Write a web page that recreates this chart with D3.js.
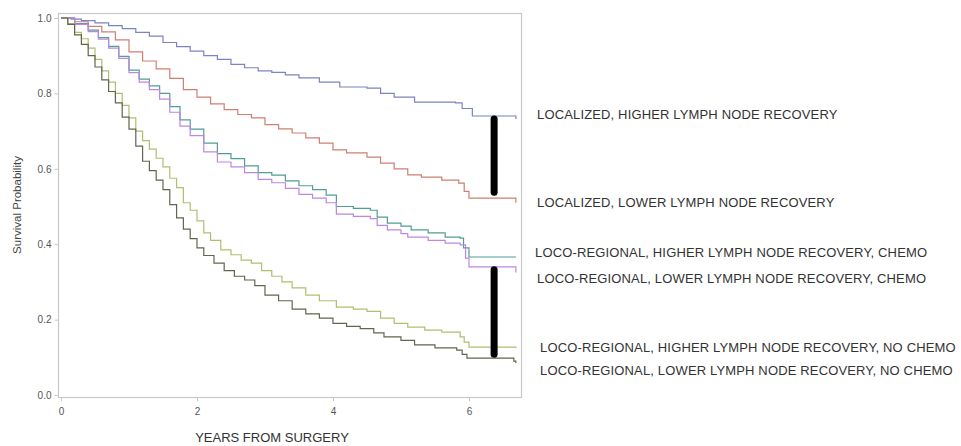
<!DOCTYPE html>
<html>
<head>
<meta charset="utf-8">
<script src="https://d3js.org/d3.v7.min.js"></script>
<style>
  body { margin: 0; background: #fff; }
  text { font-family: "Liberation Sans", Arial, sans-serif; }
</style>
</head>
<body>
<div id="chart"></div>
<script>
// Group names, as printed to the right of the curves
const groups = [
  "LOCALIZED, HIGHER LYMPH NODE RECOVERY",
  "LOCALIZED, LOWER LYMPH NODE RECOVERY",
  "LOCO-REGIONAL, HIGHER LYMPH NODE RECOVERY, CHEMO",
  "LOCO-REGIONAL, LOWER LYMPH NODE RECOVERY, CHEMO",
  "LOCO-REGIONAL, HIGHER LYMPH NODE RECOVERY, NO CHEMO",
  "LOCO-REGIONAL, LOWER LYMPH NODE RECOVERY, NO CHEMO"
];
const colors = ["#7a84c4", "#cf7f72", "#4f9e94", "#bd86e4", "#b3bd6e", "#66644f"];

// Kaplan-Meier curves: years and survival probability
const locHighT = [0, 0.15, 0.3, 0.5, 0.7, 0.9, 1.1, 1.3, 1.5, 1.7, 1.9, 2.1, 2.3, 2.5, 2.7, 2.9, 3.1, 3.3, 3.5, 3.8, 4.1, 4.5, 4.7, 4.9, 5.2, 5.8, 5.9, 6.05, 6.66, 6.69];
const locHighS = [1.0, 0.997, 0.993, 0.987, 0.98, 0.972, 0.962, 0.952, 0.935, 0.924, 0.912, 0.9, 0.89, 0.877, 0.868, 0.86, 0.856, 0.849, 0.841, 0.83, 0.817, 0.814, 0.8, 0.79, 0.777, 0.775, 0.76, 0.74, 0.74, 0.732];

const locLowT = [0, 0.2, 0.4, 0.6, 0.8, 1.0, 1.2, 1.4, 1.6, 1.8, 2.0, 2.2, 2.4, 2.6, 2.8, 3.0, 3.2, 3.4, 3.6, 3.8, 4.0, 4.2, 4.5, 4.7, 4.9, 5.1, 5.3, 5.6, 5.85, 5.93, 6.0, 6.66, 6.69];
const locLowS = [1.0, 0.99, 0.978, 0.963, 0.942, 0.91, 0.886, 0.865, 0.84, 0.81, 0.79, 0.772, 0.757, 0.744, 0.735, 0.717, 0.706, 0.695, 0.682, 0.668, 0.65, 0.642, 0.631, 0.615, 0.6, 0.584, 0.578, 0.57, 0.562, 0.54, 0.522, 0.522, 0.51];

const regHighChemoT = [0, 0.2, 0.4, 0.55, 0.7, 0.85, 1.0, 1.15, 1.3, 1.45, 1.6, 1.75, 1.9, 2.1, 2.3, 2.5, 2.7, 2.9, 3.1, 3.3, 3.5, 3.7, 3.9, 4.05, 4.3, 4.55, 4.65, 4.8, 5.0, 5.15, 5.4, 5.65, 5.87, 5.92, 6.0, 6.69];
const regHighChemoS = [1.0, 0.985, 0.968, 0.948, 0.925, 0.898, 0.862, 0.838, 0.82, 0.8, 0.765, 0.73, 0.705, 0.668, 0.64, 0.627, 0.608, 0.59, 0.583, 0.568, 0.555, 0.545, 0.53, 0.5, 0.495, 0.49, 0.472, 0.456, 0.448, 0.438, 0.43, 0.419, 0.416, 0.39, 0.366, 0.366];

const regLowChemoT = [0, 0.2, 0.4, 0.55, 0.7, 0.85, 1.0, 1.15, 1.3, 1.45, 1.6, 1.75, 1.9, 2.1, 2.3, 2.5, 2.7, 2.9, 3.1, 3.3, 3.5, 3.7, 3.9, 4.05, 4.3, 4.55, 4.65, 4.8, 5.0, 5.1, 5.4, 5.65, 5.87, 5.95, 6.0, 6.66, 6.69];
const regLowChemoS = [1.0, 0.983, 0.964, 0.944, 0.92, 0.893, 0.855, 0.83, 0.81, 0.785, 0.75, 0.713, 0.688, 0.645, 0.618, 0.605, 0.59, 0.572, 0.563, 0.548, 0.532, 0.522, 0.51, 0.48, 0.474, 0.468, 0.45, 0.438, 0.428, 0.419, 0.41, 0.403, 0.398, 0.363, 0.34, 0.34, 0.325];

const regHighNoChemoT = [0, 0.1, 0.2, 0.3, 0.4, 0.5, 0.6, 0.7, 0.8, 0.9, 1.0, 1.1, 1.2, 1.3, 1.4, 1.5, 1.6, 1.7, 1.8, 1.9, 2.0, 2.1, 2.2, 2.35, 2.5, 2.65, 2.8, 2.95, 3.1, 3.25, 3.4, 3.6, 3.8, 4.05, 4.3, 4.5, 4.7, 4.9, 5.1, 5.35, 5.6, 5.87, 5.93, 6.0, 6.69];
const regHighNoChemoS = [1.0, 0.985, 0.962, 0.945, 0.92, 0.89, 0.86, 0.83, 0.8, 0.768, 0.735, 0.7, 0.675, 0.652, 0.628, 0.605, 0.575, 0.55, 0.51, 0.49, 0.462, 0.43, 0.41, 0.385, 0.372, 0.358, 0.35, 0.33, 0.315, 0.3, 0.284, 0.265, 0.25, 0.233, 0.228, 0.222, 0.204, 0.19, 0.18, 0.172, 0.167, 0.154, 0.14, 0.127, 0.125];

const regLowNoChemoT = [0, 0.1, 0.2, 0.3, 0.4, 0.5, 0.6, 0.7, 0.8, 0.9, 1.0, 1.1, 1.2, 1.3, 1.4, 1.5, 1.6, 1.7, 1.8, 1.9, 2.0, 2.1, 2.25, 2.4, 2.55, 2.7, 2.85, 3.0, 3.2, 3.4, 3.6, 3.8, 4.0, 4.2, 4.4, 4.6, 4.75, 5.0, 5.2, 5.5, 5.82, 5.9, 5.97, 6.66, 6.69];
const regLowNoChemoS = [1.0, 0.983, 0.955, 0.93, 0.9, 0.87, 0.836, 0.805, 0.775, 0.737, 0.705, 0.66, 0.62, 0.595, 0.57, 0.545, 0.505, 0.47, 0.44, 0.415, 0.39, 0.37, 0.35, 0.33, 0.315, 0.305, 0.29, 0.265, 0.25, 0.228, 0.215, 0.204, 0.19, 0.182, 0.176, 0.165, 0.154, 0.145, 0.133, 0.125, 0.119, 0.108, 0.098, 0.09, 0.085];

const curveTimes = [locHighT, locLowT, regHighChemoT, regLowChemoT, regHighNoChemoT, regLowNoChemoT];
const curveSurv = [locHighS, locLowS, regHighChemoS, regLowChemoS, regHighNoChemoS, regLowNoChemoS];

// where each label sits, in survival units
const labelAt = [0.743, 0.512, 0.379, 0.31, 0.127, 0.064];
const labelDx = [0, 0, -2, 0, 3, 3];

// the two black bars drawn over the curves
const barYear = 6.37;
const bars = [[0.74, 0.53], [0.34, 0.10]];

const xTicks = [0, 2, 4, 6];
const yTicks = [0, 0.2, 0.4, 0.6, 0.8, 1.0];

const width = 961, height = 446;

const svg = d3.select("#chart").append("svg")
  .attr("width", width)
  .attr("height", height);

const x = d3.scaleLinear().domain([0, 6.78]).range([61, 522]);
const y = d3.scaleLinear().domain([0, 1]).range([395, 18]);

// frame
svg.append("rect")
  .attr("x", 58.5).attr("y", 13.5)
  .attr("width", 463).attr("height", 384)
  .attr("fill", "none")
  .attr("stroke", "#c8c8c8")
  .attr("stroke-width", 1.2);

// axes
const xAxis = svg.append("g")
  .attr("transform", "translate(0,397.5)")
  .call(d3.axisBottom(x).tickValues(xTicks).tickFormat(d3.format("d")).tickSize(4).tickSizeOuter(0));
const yAxis = svg.append("g")
  .attr("transform", "translate(58.5,0)")
  .call(d3.axisLeft(y).tickValues(yTicks).tickFormat(d3.format(".1f")).tickSize(4).tickSizeOuter(0));

[xAxis, yAxis].forEach(g => {
  g.select(".domain").remove();
  g.selectAll(".tick line").attr("stroke", "#c8c8c8");
  g.selectAll(".tick text")
    .attr("fill", "#555")
    .style("font-size", "10px");
});
xAxis.selectAll(".tick text").attr("dy", "1.0em");
yAxis.selectAll(".tick text").attr("x", -7);

// axis titles
svg.append("text")
  .attr("x", 272).attr("y", 442)
  .attr("text-anchor", "middle")
  .attr("fill", "#333")
  .style("font-size", "13px")
  .text("YEARS FROM SURGERY");

svg.append("text")
  .attr("transform", "translate(21,205) rotate(-90)")
  .attr("text-anchor", "middle")
  .attr("fill", "#444")
  .style("font-size", "11.5px")
  .text("Survival Probability");

// curves
const line = d3.line()
  .x(d => x(d[0]))
  .y(d => y(d[1]))
  .curve(d3.curveStepAfter);

groups.forEach((g, i) => {
  const pts = curveTimes[i].map((t, k) => [t, curveSurv[i][k]]);
  svg.append("path")
    .datum(pts)
    .attr("d", line)
    .attr("fill", "none")
    .attr("stroke", colors[i])
    .attr("stroke-width", 1.2);
});

// black bars
svg.selectAll("line.bar")
  .data(bars)
  .enter()
  .append("line")
  .attr("class", "bar")
  .attr("x1", x(barYear)).attr("x2", x(barYear))
  .attr("y1", d => y(d[0]) + 3)
  .attr("y2", d => y(d[1]) - 3)
  .attr("stroke", "#000")
  .attr("stroke-width", 7)
  .attr("stroke-linecap", "round");

// labels
svg.selectAll("text.lab")
  .data(groups)
  .enter()
  .append("text")
  .attr("class", "lab")
  .attr("x", (d, i) => 537 + labelDx[i])
  .attr("y", (d, i) => y(labelAt[i]))
  .attr("dy", "0.35em")
  .attr("fill", "#333")
  .style("font-size", "13px")
  .style("letter-spacing", "0.15px")
  .text(d => d);
</script>
</body>
</html>
